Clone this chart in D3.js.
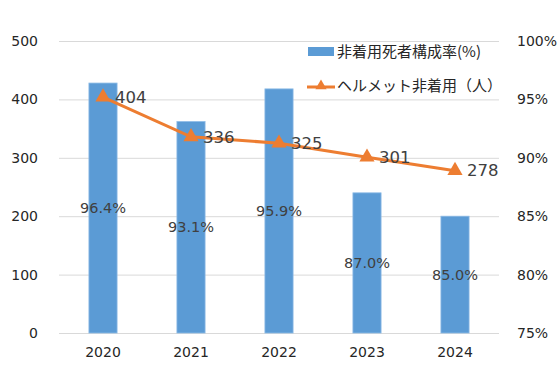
<!DOCTYPE html>
<html><head><meta charset="utf-8">
<script src="https://cdn.jsdelivr.net/npm/d3@7"></script>
<style>body{margin:0;background:#fff;} svg{display:block;}</style>
</head><body>
<svg id="c" width="560" height="384"></svg>
<script>
const years = ["2020","2021","2022","2023","2024"];
const rateValues = [96.4, 93.1, 95.9, 87.0, 85.0];
const countValues = [404, 336, 325, 301, 278];
const leftTicks = [0,100,200,300,400,500];
const rightTicks = [75,80,85,90,95,100];
const seriesNames = ["非着用死者構成率(%)", "ヘルメット非着用（人）"];

const svg = d3.select("#c");
const m = {l:59, r:499, t:41, b:333};
const x = d3.scaleBand().domain(years).range([m.l, m.r]).paddingInner(0.68).paddingOuter(0.34);
const yL = d3.scaleLinear().domain([0,500]).range([m.b, m.t]);
const yR = d3.scaleLinear().domain([75,100]).range([m.b, m.t]);
const numFont = "'DejaVu Sans', Verdana, sans-serif";
const blue = "#5B9BD5", orange = "#ED7D31";

svg.append("g").selectAll("line").data(leftTicks).join("line")
  .attr("x1", m.l).attr("x2", m.r).attr("y1", d=>yL(d)+0.5).attr("y2", d=>yL(d)+0.5)
  .attr("stroke", "#d9d9d9").attr("stroke-width", 1);

const la = svg.append("g").attr("transform", `translate(${m.l},0)`)
  .call(d3.axisLeft(yL).tickValues(leftTicks).tickSize(0).tickPadding(21));
la.select(".domain").remove();
la.selectAll("text").attr("font-family", numFont).attr("font-size", 14).attr("fill", "#262626");

const ra = svg.append("g").attr("transform", `translate(${m.r},0)`)
  .call(d3.axisRight(yR).tickValues(rightTicks).tickFormat(d=>d+"%").tickSize(0).tickPadding(18));
ra.select(".domain").remove();
ra.selectAll("text").attr("font-family", numFont).attr("font-size", 14).attr("fill", "#262626");

const xa = svg.append("g").attr("transform", `translate(0,${m.b})`)
  .call(d3.axisBottom(x).tickSize(0).tickPadding(14));
xa.select(".domain").remove();
xa.selectAll("text").attr("font-family", numFont).attr("font-size", 14).attr("fill", "#262626");

svg.append("g").selectAll("rect").data(years).join("rect")
  .attr("x", d=>x(d)).attr("width", x.bandwidth())
  .attr("y", (d,i)=>yR(rateValues[i])).attr("height", (d,i)=>m.b - yR(rateValues[i]))
  .attr("fill", blue).attr("stroke", "#8dbbe6").attr("stroke-width", 0.8);

svg.append("g").selectAll("text").data(years).join("text")
  .attr("x", d=>x(d)+x.bandwidth()/2)
  .attr("y", (d,i)=>(yR(rateValues[i])+m.b)/2)
  .attr("dy", "0.35em").attr("text-anchor", "middle")
  .attr("font-family", numFont).attr("font-size", 14.5).attr("fill", "#404040")
  .text((d,i)=>rateValues[i].toFixed(1)+"%");

const cx = d=>x(d)+x.bandwidth()/2;
const line = d3.line().x((d,i)=>cx(years[i])).y(d=>yL(d));
svg.append("path").datum(countValues).attr("d", line)
  .attr("fill", "none").attr("stroke", orange).attr("stroke-width", 3);
const tri = d3.symbol().type(d3.symbolTriangle).size(100);
svg.append("g").selectAll("path").data(countValues).join("path")
  .attr("transform", (d,i)=>`translate(${cx(years[i])},${yL(d)})`)
  .attr("d", tri).attr("fill", orange);

svg.append("g").selectAll("text").data(countValues).join("text")
  .attr("x", (d,i)=>cx(years[i]) + 12)
  .attr("y", d=>yL(d))
  .attr("dy", "0.35em")
  .attr("font-family", numFont).attr("font-size", 16.5).attr("fill", "#404040")
  .text(d=>d);

const lg = svg.append("g");
lg.append("rect").attr("x", 308).attr("y", 47).attr("width", 26).attr("height", 9).attr("fill", blue);
lg.append("text").attr("x", 337).attr("y", 52).attr("dy", "0.35em")
  .attr("font-family", "'Noto Sans CJK JP', sans-serif").attr("font-size", 15).attr("fill", "#262626")
  .text(seriesNames[0]);
lg.append("line").attr("x1", 307).attr("x2", 335).attr("y1", 87).attr("y2", 87)
  .attr("stroke", orange).attr("stroke-width", 3);
lg.append("path").attr("transform", "translate(321,86)").attr("d", d3.symbol().type(d3.symbolTriangle).size(55)).attr("fill", orange);
lg.append("text").attr("x", 337).attr("y", 86).attr("dy", "0.35em")
  .attr("font-family", "'Noto Sans CJK JP', sans-serif").attr("font-size", 15).attr("fill", "#262626")
  .text(seriesNames[1]);
</script>
</body></html>
